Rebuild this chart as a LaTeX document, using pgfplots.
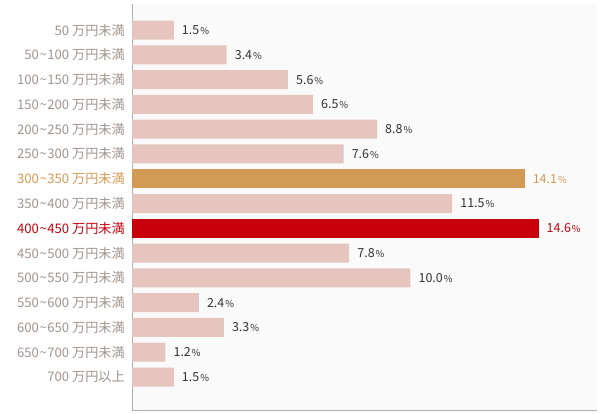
\documentclass[border=0pt]{standalone}
\usepackage{pgfplots}
\pgfplotsset{compat=1.18}
\usepackage{fontspec}
\setmainfont{Noto Sans CJK JP}
\definecolor{barpink}{HTML}{E6C5BF}
\definecolor{barorange}{HTML}{D39A56}
\definecolor{barred}{HTML}{C8000B}
\definecolor{labgray}{HTML}{A0948F}
\definecolor{valgray}{HTML}{333333}
\definecolor{axgray}{HTML}{B5ADAA}
\definecolor{bggray}{HTML}{FAFAFA}
\newcommand{\tl}{\hspace{0.5bp}\textasciitilde\hspace{0.5bp}}
\newcommand{\g}{\hspace{3bp}}
\newcommand{\lab}[1]{\mbox{\fontsize{13.2}{15}\selectfont #1}}
\begin{document}
\begin{tikzpicture}
\useasboundingbox (0,0) rectangle (600bp,414bp);
\begin{axis}[
    at={(132bp,4bp)}, anchor=south west,
    scale only axis,
    width=465bp, height=406bp,
    xbar, bar width=19bp,
    xmin=0, xmax=16.7,
    ymin=-1.33, ymax=15.05,
    axis x line*=bottom, axis y line*=left,
    axis line style={axgray, line width=0.8pt},
    axis background/.style={fill=bggray},
    xtick=\empty,
    ytick={0,...,14},
    major tick length=0pt,
    yticklabels={
      \lab{700\g{}万円以上},
      \lab{650\tl{}700\g{}万円未満},
      \lab{600\tl{}650\g{}万円未満},
      \lab{550\tl{}600\g{}万円未満},
      \lab{500\tl{}550\g{}万円未満},
      \lab{450\tl{}500\g{}万円未満},
      \lab{\color{barred}400\tl{}450\g{}万円未満},
      \lab{350\tl{}400\g{}万円未満},
      \lab{\color{barorange}300\tl{}350\g{}万円未満},
      \lab{250\tl{}300\g{}万円未満},
      \lab{200\tl{}250\g{}万円未満},
      \lab{150\tl{}200\g{}万円未満},
      \lab{100\tl{}150\g{}万円未満},
      \lab{50\tl{}100\g{}万円未満},
      \lab{50\g{}万円未満}},
    yticklabel style={anchor=east, inner sep=0pt, xshift=-7bp, text=labgray},
    /pgf/number format/assume math mode=true,
    nodes near coords={\mbox{\fontsize{12.5}{14}\selectfont\pgfmathprintnumber[fixed,precision=1,fixed zerofill,assume math mode=true]{\pgfplotspointmeta}\hspace{1bp}{\fontsize{9.5}{11}\selectfont\%}}},
    nodes near coords align={horizontal},
    every node near coord/.append style={inner sep=0pt, xshift=8bp},
]
\addplot[fill=barpink, draw=none, bar shift=0pt,
  every node near coord/.append style={text=valgray}] coordinates {
  (1.5,14) (3.4,13) (5.6,12) (6.5,11) (8.8,10) (7.6,9)
  (11.5,7) (7.8,5) (10.0,4) (2.4,3) (3.3,2) (1.2,1) (1.5,0)
};
\addplot[fill=barorange, draw=none, bar shift=0pt,
  every node near coord/.append style={text=barorange}] coordinates {
  (14.1,8)
};
\addplot[fill=barred, draw=none, bar shift=0pt,
  every node near coord/.append style={text=barred}] coordinates {
  (14.6,6)
};
\end{axis}
\end{tikzpicture}
\end{document}
